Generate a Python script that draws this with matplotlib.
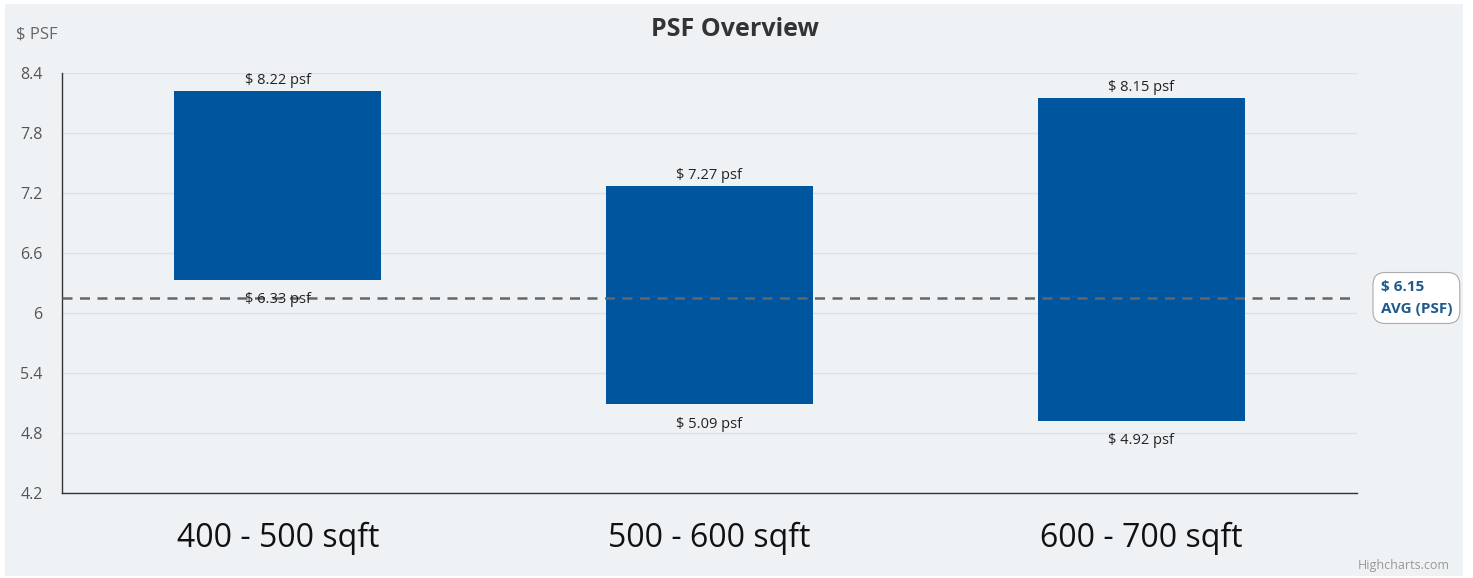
import matplotlib.pyplot as plt
from matplotlib.patches import Rectangle

# data
categories = ['400 - 500 sqft', '500 - 600 sqft', '600 - 700 sqft']
psf_low = [6.33, 5.09, 4.92]
psf_high = [8.22, 7.27, 8.15]
avg_psf = 6.15
y_ticks = [4.2, 4.8, 5.4, 6.0, 6.6, 7.2, 7.8, 8.4]
y_tick_labels = ['4.2', '4.8', '5.4', '6', '6.6', '7.2', '7.8', '8.4']

plt.rcParams['font.family'] = ['Open Sans', 'DejaVu Sans']

bg = '#eff2f5'
bar_color = '#00569e'

fig = plt.figure(figsize=(14.73, 5.78), dpi=100, facecolor='white')
fig.patches.append(Rectangle((5 / 1473, 2 / 578), 1458 / 1473, 572 / 578,
                             transform=fig.transFigure, facecolor=bg,
                             edgecolor='none', zorder=-10))

ax = fig.add_axes([62 / 1473, 1 - 493 / 578, 1295 / 1473, 420 / 578])
ax.set_facecolor(bg)

x = range(len(categories))
heights = [h - l for h, l in zip(psf_high, psf_low)]
ax.bar(x, heights, bottom=psf_low, width=0.48, color=bar_color, zorder=3)

for i in x:
    ax.annotate(f'$ {psf_high[i]:.2f} psf', (i, psf_high[i]), xytext=(0, 2),
                textcoords='offset points', ha='center', va='bottom',
                fontsize=10.5, color='#222222', zorder=5)
    ax.annotate(f'$ {psf_low[i]:.2f} psf', (i, psf_low[i]), xytext=(0, -9),
                textcoords='offset points', ha='center', va='top',
                fontsize=10.5, color='#222222', zorder=5)

ax.axhline(avg_psf, color='#666666', linestyle=(0, (4, 3)), linewidth=1.8, zorder=4)
ax.annotate(f'$ {avg_psf:.2f}\nAVG (PSF)', xy=(1.0, avg_psf), xycoords=('axes fraction', 'data'),
            xytext=(17, 0), textcoords='offset points', ha='left', va='center',
            fontsize=11, fontweight='bold', color='#1f5a8c', linespacing=1.7,
            bbox=dict(boxstyle='round,pad=0.5,rounding_size=0.8', facecolor='white',
                      edgecolor='#aaaaaa', linewidth=0.8),
            annotation_clip=False)

ax.set_xlim(-0.5, 2.5)
ax.set_ylim(4.2, 8.4)
ax.set_yticks(y_ticks)
ax.set_yticklabels(y_tick_labels)
ax.set_xticks(list(x))
ax.set_xticklabels(categories, fontsize=23, color='#111111')
ax.tick_params(axis='y', length=0, pad=14, labelsize=11.5, labelcolor='#555555')
ax.tick_params(axis='x', length=0, pad=21)
ax.grid(axis='y', color='#dde1e6', linewidth=1, zorder=0)

for side in ['top', 'right']:
    ax.spines[side].set_visible(False)
ax.spines['left'].set_color('#333333')
ax.spines['bottom'].set_color('#333333')
ax.spines['left'].set_linewidth(1)
ax.spines['bottom'].set_linewidth(1)

fig.text(735 / 1473, 1 - 30 / 578, 'PSF Overview', ha='center', va='center',
         fontsize=18, fontweight='bold', color='#333333')
fig.text(16 / 1473, 1 - 34 / 578, '$ PSF', ha='left', va='center',
         fontsize=12, color='#666666')
fig.text(1450 / 1473, 1 - 566 / 578, 'Highcharts.com', ha='right', va='center',
         fontsize=9, color='#999999')

fig.savefig('out.png', dpi=100, facecolor=fig.get_facecolor())
